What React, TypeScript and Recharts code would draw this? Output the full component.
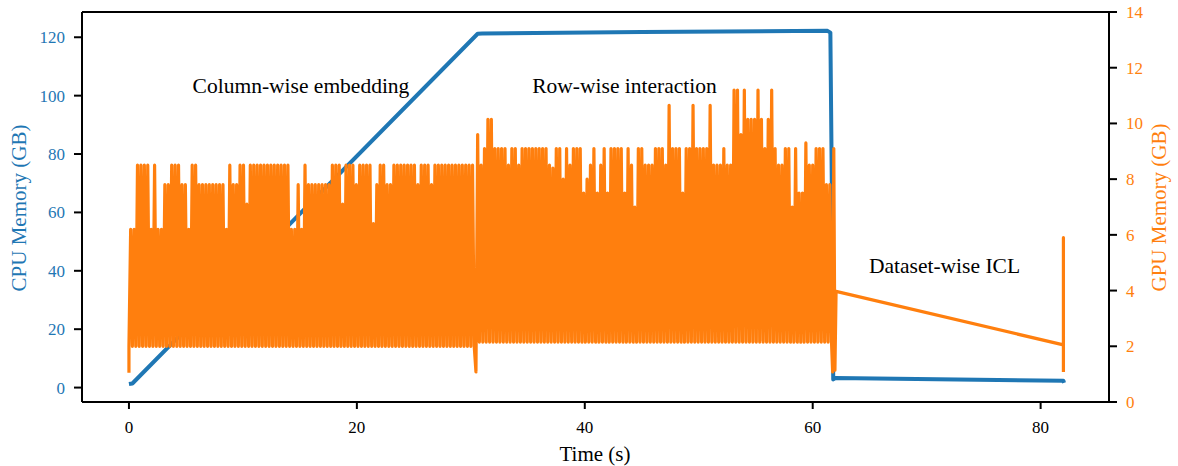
import { ComposedChart, Line, XAxis, YAxis, ReferenceLine } from 'recharts'

const FONT = "'Liberation Serif', 'Times New Roman', serif"
const BLUE = '#1f77b4'
const ORANGE = '#ff7f0e'

const timeTicks = [0, 20, 40, 60, 80]
const cpuTicks = [0, 20, 40, 60, 80, 100, 120]
const gpuTicks = [0, 2, 4, 6, 8, 10, 12, 14]

// CPU memory (GB)
const cpuTime = [0, 0.3, 30.6, 31.0, 45.0, 61.3, 61.55, 61.7, 61.8, 62.0, 82.0, 82.05]
const cpuMem = [1.2, 1.4, 121.2, 121.3, 121.8, 122.2, 121.6, 60.0, 2.8, 3.3, 2.3, 1.6]

// GPU memory: allocate/free cycles, one peak per sampling step
const sampleStep = 0.3

const embedStart = 0
const embedLow = 2.0
const embedPeaks = [
  6.2, 6.2, 8.5, 8.5, 8.5, 8.5, 6.2, 8.5, 6.2, 6.2,
  7.8, 7.8, 8.5, 8.5, 8.5, 7.8, 7.8, 6.2, 8.5, 8.5,
  7.8, 7.8, 7.8, 7.8, 7.8, 7.8, 7.8, 7.8, 6.2, 8.5,
  7.8, 7.8, 8.5, 8.5, 7.1, 8.5, 8.5, 8.5, 8.5, 8.5,
  8.5, 8.5, 8.5, 8.5, 8.5, 8.5, 8.5, 6.2, 6.2, 7.8,
  6.2, 8.5, 7.8, 7.8, 7.8, 7.8, 7.8, 7.8, 7.8, 8.5,
  8.5, 8.5, 7.1, 8.5, 8.5, 8.5, 7.8, 8.5, 8.5, 8.5,
  8.5, 6.4, 7.8, 8.5, 8.5, 7.8, 7.8, 8.5, 8.5, 8.5,
  8.5, 8.5, 8.5, 8.5, 7.8, 8.5, 8.5, 8.5, 7.8, 8.5,
  8.5, 8.5, 8.5, 8.5, 8.5, 8.5, 8.5, 8.5, 8.5, 8.5,
  8.5,
]

const rowStart = 30.75
const rowLow = 2.15
const rowPeaks = [
  8.5, 9.1, 10.15, 10.15, 9.1, 9.1, 9.1, 9.1, 8.5, 9.1,
  9.1, 8.5, 9.1, 9.1, 9.1, 9.1, 9.1, 9.1, 9.1, 9.1,
  8.5, 8.4, 9.1, 9.1, 8.0, 9.1, 8.5, 9.1, 9.1, 9.1,
  7.5, 8.0, 8.5, 9.1, 7.5, 8.5, 9.1, 7.5, 9.1, 9.1,
  9.1, 9.1, 7.5, 9.1, 8.5, 7.0, 9.1, 9.1, 8.5, 8.5,
  8.5, 9.1, 9.1, 9.1, 8.5, 10.65, 9.1, 9.1, 9.1, 7.5,
  9.1, 9.1, 10.65, 9.1, 9.1, 9.1, 9.1, 10.65, 8.5, 8.5,
  8.5, 9.1, 8.5, 8.5, 11.2, 11.2, 9.6, 11.2, 10.15, 10.15,
  10.15, 11.2, 10.15, 9.1, 10.15, 11.2, 9.1, 8.5, 8.5, 9.1,
  9.1, 7.0, 9.1, 7.5, 7.5, 9.3, 8.5, 8.5, 9.1, 9.1,
  9.1, 7.8, 7.8,
]

// samples outside the regular cycles
const gpuHeadTime = [0]
const gpuHeadMem = [1.05]
const gpuBridgeTime = [30.45, 30.6]
const gpuBridgeMem = [1.08, 9.6]
const gpuTailTime = [61.75, 61.85, 61.95, 62.05, 82.0, 82.0, 82.0]
const gpuTailMem = [1.08, 9.1, 1.14, 3.97, 2.05, 5.9, 1.08]

const pairs = (ts: number[], vs: number[]) => ts.map((t, i) => ({ t, gpu: vs[i] }))

function cycles(start: number, low: number, peaks: number[]) {
  const pts: { t: number; gpu: number }[] = []
  peaks.forEach((p, i) => {
    pts.push({ t: start + i * sampleStep, gpu: low })
    pts.push({ t: start + (i + 0.5) * sampleStep, gpu: p })
  })
  pts.push({ t: start + peaks.length * sampleStep, gpu: low })
  return pts
}

const cpuData = cpuTime.map((t, i) => ({ t, cpu: cpuMem[i] }))
const gpuData = [
  ...pairs(gpuHeadTime, gpuHeadMem),
  ...cycles(embedStart, embedLow, embedPeaks),
  ...pairs(gpuBridgeTime, gpuBridgeMem),
  ...cycles(rowStart, rowLow, rowPeaks),
  ...pairs(gpuTailTime, gpuTailMem),
]

const spine = { stroke: '#000', strokeWidth: 2 }

export default function App() {
  return (
    <div style={{ position: 'absolute', left: 0, top: 0, width: 1178, height: 466, background: '#fff' }}>
      <ComposedChart width={1178} height={466} margin={{ top: 12, right: 0, bottom: 0, left: 0 }}>
        <XAxis
          dataKey="t"
          type="number"
          domain={[-4.12, 86.0]}
          ticks={timeTicks}
          allowDataOverflow
          height={64}
          axisLine={spine}
          tickLine={spine}
          tickSize={7}
          tickMargin={12}
          tick={{ fill: '#000', fontSize: 17, fontFamily: FONT }}
        />
        <YAxis
          yAxisId="cpu"
          type="number"
          domain={[-4.94, 128.65]}
          ticks={cpuTicks}
          allowDataOverflow
          width={82}
          axisLine={spine}
          tickLine={spine}
          tickSize={8}
          tickMargin={9}
          tick={{ fill: BLUE, fontSize: 17, fontFamily: FONT }}
        />
        <YAxis
          yAxisId="gpu"
          orientation="right"
          type="number"
          domain={[0, 14]}
          ticks={gpuTicks}
          allowDataOverflow
          width={69}
          axisLine={spine}
          tickLine={spine}
          tickSize={8}
          tickMargin={9}
          tick={{ fill: ORANGE, fontSize: 17, fontFamily: FONT }}
        />
        <Line
          data={cpuData}
          dataKey="cpu"
          yAxisId="cpu"
          type="linear"
          stroke={BLUE}
          strokeWidth={4}
          strokeLinejoin="round"
          dot={false}
          isAnimationActive={false}
        />
        <Line
          data={gpuData}
          dataKey="gpu"
          yAxisId="gpu"
          type="linear"
          stroke={ORANGE}
          strokeWidth={3.2}
          strokeLinejoin="round"
          dot={false}
          isAnimationActive={false}
        />
        <ReferenceLine yAxisId="gpu" y={14} stroke="#000" strokeWidth={2} />
      </ComposedChart>
      <svg
        width={1178}
        height={466}
        style={{ position: 'absolute', left: 0, top: 0, pointerEvents: 'none' }}
        fontFamily={FONT}
      >
        <text x={301} y={93} fontSize={21.5} textAnchor="middle" fill="#000">Column-wise embedding</text>
        <text x={624.5} y={93} fontSize={21.5} textAnchor="middle" fill="#000">Row-wise interaction</text>
        <text x={944.5} y={272.5} fontSize={21.5} textAnchor="middle" fill="#000">Dataset-wise ICL</text>
        <text x={595} y={461} fontSize={21} textAnchor="middle" fill="#000">Time (s)</text>
        <text x={26} y={208} fontSize={21} textAnchor="middle" fill={BLUE} transform="rotate(-90 26 208)">
          CPU Memory (GB)
        </text>
        <text x={1166} y={207.5} fontSize={21} textAnchor="middle" fill={ORANGE} transform="rotate(-90 1166 207.5)">
          GPU Memory (GB)
        </text>
      </svg>
    </div>
  )
}
